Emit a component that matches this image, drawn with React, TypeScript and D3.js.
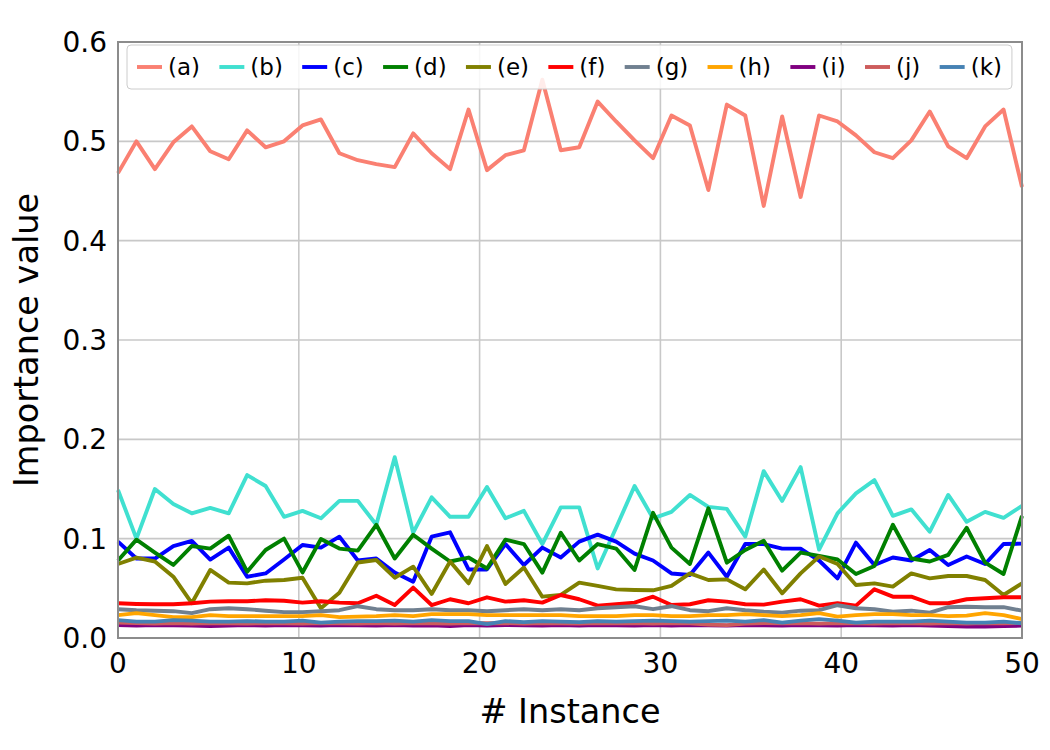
import { useEffect, useRef } from 'react';
import * as d3 from 'd3';

// 50 instances spread over [0, 50] (like np.linspace(0, 50, 50))
const N = 50;

const seriesNames = ['(a)', '(b)', '(c)', '(d)', '(e)', '(f)', '(g)', '(h)', '(i)', '(j)', '(k)'];
const seriesColors = ['#fa8072', '#40e0d0', '#0000ff', '#008000', '#808000', '#ff0000', '#708090', '#ffa500', '#800080', '#cd5c5c', '#4682b4'];

const serA = [0.468, 0.500, 0.472, 0.499, 0.515, 0.490, 0.482, 0.511, 0.494, 0.500, 0.516, 0.522, 0.488, 0.481, 0.477, 0.474, 0.508,
  0.488, 0.472, 0.532, 0.471, 0.486, 0.491, 0.562, 0.491, 0.494, 0.540, 0.520, 0.501, 0.483, 0.526, 0.516, 0.451, 0.537,
  0.526, 0.435, 0.525, 0.444, 0.526, 0.520, 0.506, 0.489, 0.483, 0.501, 0.530, 0.495, 0.483, 0.515, 0.532, 0.454];
const serB = [0.149, 0.100, 0.150, 0.135, 0.1255, 0.131, 0.1255, 0.164, 0.153, 0.122, 0.128, 0.1205, 0.138, 0.138, 0.114, 0.182, 0.106,
  0.1416, 0.122, 0.122, 0.152, 0.1205, 0.128, 0.0946, 0.1315, 0.1315, 0.070, 0.111, 0.153, 0.1205, 0.127, 0.144, 0.132, 0.130,
  0.102, 0.168, 0.138, 0.172, 0.089, 0.1255, 0.1456, 0.159, 0.123, 0.1295, 0.107, 0.144, 0.117, 0.127, 0.121, 0.133];
const serC = [0.097, 0.080, 0.080, 0.0926, 0.0977, 0.079, 0.091, 0.0617, 0.065, 0.079, 0.0936, 0.091, 0.102, 0.078, 0.080, 0.066, 0.0567,
  0.102, 0.1064, 0.069, 0.069, 0.0946, 0.0735, 0.091, 0.081, 0.097, 0.104, 0.097, 0.085, 0.078, 0.065, 0.0634, 0.086, 0.0617,
  0.0946, 0.0946, 0.090, 0.090, 0.078, 0.060, 0.096, 0.0735, 0.081, 0.078, 0.0886, 0.0735, 0.082, 0.0745, 0.0946, 0.095];
const serD = [0.078, 0.099, 0.086, 0.0735, 0.0926, 0.090, 0.103, 0.0668, 0.0886, 0.100, 0.066, 0.0997, 0.090, 0.088, 0.114, 0.080, 0.104,
  0.090, 0.077, 0.081, 0.070, 0.099, 0.0946, 0.0658, 0.106, 0.078, 0.0946, 0.090, 0.0685, 0.126, 0.091, 0.0745, 0.1306, 0.0758,
  0.0886, 0.098, 0.0678, 0.086, 0.0826, 0.079, 0.0644, 0.0725, 0.114, 0.080, 0.077, 0.0836, 0.111, 0.0758, 0.0644, 0.123];
const serE = [0.0745, 0.081, 0.077, 0.0617, 0.035, 0.0685, 0.0557, 0.055, 0.0577, 0.0584, 0.0607, 0.030, 0.0456, 0.076, 0.0785, 0.0607, 0.0718,
  0.0443, 0.077, 0.055, 0.0926, 0.0544, 0.071, 0.0416, 0.0433, 0.0557, 0.0524, 0.049, 0.0483, 0.048, 0.0524, 0.065, 0.0584, 0.059,
  0.049, 0.069, 0.045, 0.065, 0.082, 0.0745, 0.0534, 0.055, 0.0517, 0.065, 0.060, 0.0624, 0.0624, 0.0584, 0.0433, 0.055];
const serF = [0.035, 0.0343, 0.034, 0.034, 0.035, 0.0366, 0.037, 0.037, 0.038, 0.0375, 0.0356, 0.037, 0.0356, 0.035, 0.0426, 0.0332, 0.0507,
  0.0332, 0.039, 0.035, 0.041, 0.0366, 0.038, 0.0356, 0.0433, 0.039, 0.0326, 0.034, 0.0356, 0.0416, 0.0332, 0.034, 0.038, 0.0366,
  0.034, 0.0336, 0.0366, 0.039, 0.0326, 0.035, 0.0326, 0.049, 0.0416, 0.0416, 0.035, 0.035, 0.039, 0.040, 0.041, 0.041];
const serG = [0.029, 0.028, 0.0275, 0.027, 0.025, 0.029, 0.030, 0.029, 0.0275, 0.026, 0.026, 0.027, 0.028, 0.032, 0.029, 0.028, 0.028,
  0.029, 0.028, 0.028, 0.027, 0.028, 0.029, 0.028, 0.029, 0.028, 0.030, 0.031, 0.032, 0.029, 0.032, 0.028, 0.027, 0.030,
  0.028, 0.0265, 0.0255, 0.0275, 0.028, 0.033, 0.030, 0.029, 0.0265, 0.0275, 0.0255, 0.031, 0.0315, 0.031, 0.031, 0.0275];
const serH = [0.023, 0.025, 0.023, 0.021, 0.021, 0.023, 0.022, 0.022, 0.022, 0.022, 0.022, 0.023, 0.021, 0.0215, 0.022, 0.023, 0.022,
  0.024, 0.024, 0.024, 0.023, 0.023, 0.023, 0.023, 0.023, 0.022, 0.022, 0.022, 0.023, 0.023, 0.022, 0.022, 0.023, 0.023,
  0.024, 0.023, 0.022, 0.023, 0.025, 0.0215, 0.023, 0.024, 0.024, 0.023, 0.023, 0.022, 0.0225, 0.025, 0.023, 0.019];
const serI = [0.013, 0.0125, 0.013, 0.0128, 0.0125, 0.012, 0.0125, 0.013, 0.0125, 0.013, 0.0128, 0.0125, 0.013, 0.0128, 0.0125, 0.013, 0.0125,
  0.0128, 0.012, 0.013, 0.0125, 0.013, 0.0128, 0.0125, 0.013, 0.0125, 0.013, 0.0128, 0.0125, 0.013, 0.0125, 0.013, 0.0128, 0.0125,
  0.013, 0.0128, 0.0125, 0.013, 0.0128, 0.0125, 0.013, 0.0128, 0.0125, 0.013, 0.0125, 0.012, 0.0115, 0.0115, 0.012, 0.0125];
const serJ = [0.0155, 0.015, 0.0145, 0.015, 0.0145, 0.015, 0.0148, 0.0145, 0.015, 0.0148, 0.0145, 0.015, 0.0148, 0.0145, 0.015, 0.0145, 0.015,
  0.0148, 0.0145, 0.015, 0.0148, 0.015, 0.0145, 0.015, 0.0148, 0.0145, 0.015, 0.0148, 0.015, 0.0145, 0.015, 0.0148, 0.0135, 0.013,
  0.0145, 0.015, 0.0148, 0.015, 0.0145, 0.015, 0.0148, 0.0145, 0.015, 0.0148, 0.0145, 0.015, 0.0145, 0.015, 0.0148, 0.015];
const serK = [0.018, 0.0165, 0.0165, 0.018, 0.0175, 0.0165, 0.0165, 0.017, 0.0165, 0.0165, 0.0175, 0.0155, 0.0165, 0.017, 0.017, 0.0175, 0.0165,
  0.018, 0.017, 0.017, 0.014, 0.017, 0.016, 0.017, 0.0165, 0.016, 0.017, 0.0165, 0.017, 0.0175, 0.017, 0.0165, 0.017, 0.0175,
  0.0165, 0.018, 0.0155, 0.0175, 0.019, 0.0175, 0.0155, 0.0165, 0.0165, 0.0165, 0.0175, 0.0165, 0.0155, 0.0155, 0.0165, 0.0148];

const allSeries = [serA, serB, serC, serD, serE, serF, serG, serH, serI, serJ, serK];

const yTicks = [0, 0.1, 0.2, 0.3, 0.4, 0.5, 0.6];
const xTicks = [0, 10, 20, 30, 40, 50];

export default function App() {
  const svgRef = useRef<SVGSVGElement>(null);

  useEffect(() => {
    const svg = d3.select(svgRef.current);
    svg.selectAll('*').remove();

    const W = 1050, H = 750;
    const left = 118, right = 1022, top = 42, bottom = 638;
    const font = 'DejaVu Sans, sans-serif';

    const x = d3.scaleLinear().domain([0, 50]).range([left, right]);
    const y = d3.scaleLinear().domain([0, 0.6]).range([bottom, top]);
    const xs = d3.range(N).map(i => (i * 50) / (N - 1));

    svg.append('rect').attr('width', W).attr('height', H).attr('fill', '#fff');

    // Grid
    const grid = svg.append('g');
    yTicks.forEach(t => {
      grid.append('line').attr('x1', left).attr('x2', right).attr('y1', y(t)).attr('y2', y(t))
        .attr('stroke', '#c8c8c8').attr('stroke-width', 1.6);
    });
    xTicks.forEach(t => {
      grid.append('line').attr('x1', x(t)).attr('x2', x(t)).attr('y1', top).attr('y2', bottom)
        .attr('stroke', '#c8c8c8').attr('stroke-width', 1.6);
    });

    // Lines, in plot order (a first, k on top)
    const line = d3.line<number>()
      .x((_, i) => x(xs[i]))
      .y(d => y(d));

    const plot = svg.append('g');
    allSeries.forEach((s, k) => {
      plot.append('path').datum(s).attr('d', line)
        .attr('fill', 'none').attr('stroke', seriesColors[k]).attr('stroke-width', 3.9)
        .attr('stroke-linejoin', 'round');
    });

    // Spines
    svg.append('rect').attr('x', left).attr('y', top).attr('width', right - left).attr('height', bottom - top)
      .attr('fill', 'none').attr('stroke', '#8c8c8c').attr('stroke-width', 2);

    // Tick labels
    yTicks.forEach(t => {
      svg.append('text').attr('x', left - 11).attr('y', y(t) + 10)
        .attr('text-anchor', 'end').attr('font-size', 28).attr('font-family', font).attr('fill', '#000')
        .text(d3.format('.1f')(t));
    });
    xTicks.forEach(t => {
      svg.append('text').attr('x', x(t)).attr('y', bottom + 35)
        .attr('text-anchor', 'middle').attr('font-size', 28).attr('font-family', font).attr('fill', '#000')
        .text(t);
    });

    // Axis labels
    svg.append('text').attr('x', (left + right) / 2).attr('y', 723)
      .attr('text-anchor', 'middle').attr('font-size', 33.5).attr('font-family', font).attr('fill', '#000')
      .text('# Instance');
    svg.append('text').attr('transform', `translate(38,${(top + bottom) / 2}) rotate(-90)`)
      .attr('text-anchor', 'middle').attr('font-size', 33.5).attr('font-family', font).attr('fill', '#000')
      .text('Importance value');

    // Legend
    const lg = svg.append('g');
    const box = lg.append('rect').attr('x', 127).attr('y', 45).attr('height', 44).attr('rx', 4)
      .attr('fill', '#fff').attr('fill-opacity', 0.85).attr('stroke', '#cccccc').attr('stroke-width', 1);
    let cx = 137;
    seriesNames.forEach((name, k) => {
      lg.append('line').attr('x1', cx).attr('x2', cx + 25).attr('y1', 67).attr('y2', 67)
        .attr('stroke', seriesColors[k]).attr('stroke-width', 3.9);
      const t = lg.append('text').attr('x', cx + 31).attr('y', 75)
        .attr('font-size', 23).attr('font-family', font).attr('fill', '#000')
        .text(name);
      const w = (t.node() as SVGTextElement).getComputedTextLength();
      cx = cx + 31 + w + 19.3;
    });
    box.attr('width', cx - 19.3 + 10 - 127);
  }, []);

  return (
    <svg
      ref={svgRef}
      width={1050}
      height={750}
      style={{ position: 'absolute', left: 0, top: 0 }}
    />
  );
}
